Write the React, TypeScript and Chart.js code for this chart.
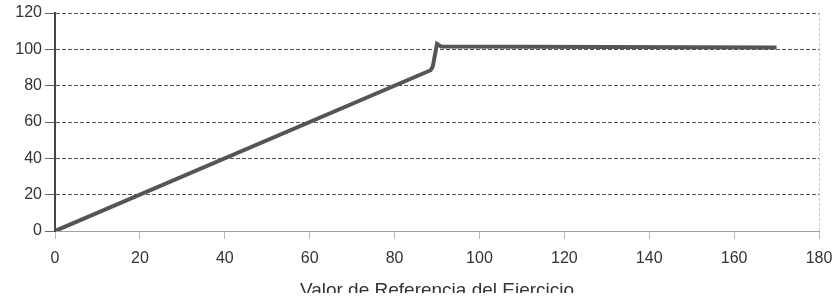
import React, { useEffect, useRef } from "react";
import { Chart, registerables } from "chart.js";

Chart.register(...registerables);

const xValues = [0, 88.5, 89, 90, 91, 170];
const yValues = [0, 88.5, 90.5, 103, 101.5, 101];
const xTicks = [0, 20, 40, 60, 80, 100, 120, 140, 160, 180];
const yTicks = [0, 20, 40, 60, 80, 100, 120];
const xTitle = "Valor de Referencia del Ejercicio";

export default function App() {
  const ref = useRef<HTMLCanvasElement | null>(null);
  useEffect(() => {
    if (!ref.current) return;
    const font = { family: "'Liberation Sans', Arial, sans-serif", size: 16 };
    const titleFont = { family: "'Liberation Sans', Arial, sans-serif", size: 19 };
    const chart = new Chart(ref.current, {
      type: "line",
      data: {
        datasets: [
          {
            data: xValues.map((x, i) => ({ x, y: yValues[i] })),
            borderColor: "#555555",
            borderWidth: 4,
            pointRadius: 0,
            tension: 0,
            fill: false,
          },
        ],
      },
      options: {
        animation: false,
        responsive: false,
        devicePixelRatio: 1,
        layout: { padding: { left: 0, right: 17, top: 13, bottom: 0 } },
        plugins: { legend: { display: false }, tooltip: { enabled: false } },
        scales: {
          x: {
            type: "linear",
            min: 0,
            max: 180,
            afterBuildTicks: (s: any) => {
              s.ticks = xTicks.map((v) => ({ value: v }));
            },
            afterFit: (s: any) => {
              s.height = 89;
              s.paddingLeft = 0;
              s.paddingRight = 0;
            },
            ticks: { font, color: "#333333", padding: 10, maxRotation: 0 },
            grid: {
              color: (ctx: any) => (ctx.tick && ctx.tick.value === 180 ? "#c8c8c8" : "rgba(0,0,0,0)"),
              tickColor: "#b8b8b8",
              tickLength: 8,
              lineWidth: 1,
            },
            border: { color: "#a0a0a0", width: 1, dash: [3, 2] },
            title: {
              display: true,
              text: xTitle,
              font: titleFont,
              color: "#333333",
              padding: { top: 0, bottom: 18 },
            },
          },
          y: {
            type: "linear",
            min: 0,
            max: 120,
            afterBuildTicks: (s: any) => {
              s.ticks = yTicks.map((v) => ({ value: v }));
            },
            afterFit: (s: any) => {
              s.width = 55;
              s.paddingTop = 0;
              s.paddingBottom = 0;
            },
            ticks: { font, color: "#333333", padding: 3 },
            grid: {
              color: "#555555",
              tickColor: "#666666",
              tickLength: 10,
              lineWidth: 1,
            },
            border: { color: "#444444", width: 2, dash: [4, 2] },
          },
        },
      },
    });
    return () => chart.destroy();
  }, []);
  return (
    <div style={{ position: "fixed", left: 0, top: 0, width: 836, height: 293, overflow: "hidden", background: "#fff" }}>
      <canvas ref={ref} width={836} height={320} style={{ display: "block", width: 836, height: 320 }} />
    </div>
  );
}
